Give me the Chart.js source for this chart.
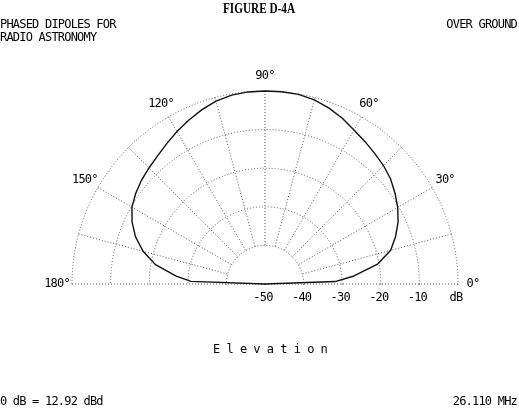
<!DOCTYPE html>
<html><head><meta charset="utf-8">
<script src="https://cdn.jsdelivr.net/npm/chart.js@4/dist/chart.umd.min.js"></script>
<style>
html,body{margin:0;padding:0;background:#fff;width:519px;height:409px;overflow:hidden}
#wrap{position:absolute;left:0;top:0;width:519px;height:409px;overflow:hidden}
#c{position:absolute;left:0;top:0}
.t{position:absolute;font-family:"DejaVu Sans Mono",monospace;font-size:12px;line-height:13px;letter-spacing:-0.8px;color:#000;white-space:pre}
#title{position:absolute;left:258.5px;top:0px;font-family:"Liberation Serif",serif;font-weight:bold;font-size:15px;line-height:17px;transform:translateX(-50%) scaleX(0.75);white-space:pre;color:#000}
</style></head><body>
<div id="wrap"><canvas id="c" width="519" height="520"></canvas></div>
<div id="title">FIGURE D-4A</div>
<div class="t" style="left:0;top:18px">PHASED DIPOLES FOR
RADIO ASTRONOMY</div>
<div class="t" style="right:2px;top:18px;text-align:right">OVER GROUND</div>
<div class="t" style="left:213px;top:343px;letter-spacing:-0.5px">E l e v a t i o n</div>
<div class="t" style="left:0;top:395px">0 dB = 12.92 dBd</div>
<div class="t" style="right:2px;top:395px;text-align:right">26.110 MHz</div>
<script>
// Elevation angle (degrees) and relative gain (dB)
const elevAngles = [0, 2, 5, 10, 15, 20, 25, 30, 35, 40, 45, 50, 55, 60, 65, 70, 75, 80, 85, 90,
                    95, 100, 105, 110, 115, 120, 125, 130, 135, 140, 145, 150, 155, 160, 165, 170, 175, 178, 180];
const gainDb = [-50, -31.8, -27.1, -20.4, -16.3, -14.0, -11.95, -10.3, -8.9, -7.55, -6.6, -5.8, -4.9, -3.9, -2.6, -1.5, -0.6, -0.1, 0, 0,
                -0.05, -0.3, -0.95, -2.0, -3.2, -4.4, -5.6, -6.7, -7.5, -8.2, -9.1, -10.2, -12.0, -14.3, -17.3, -21.2, -26.9, -30.8, -50];
// Radial (dB) ticks
const ringValues = [-50, -40, -30, -20, -10, 0];
const ringLabels = ['-50', '-40', '-30', '-20', '-10', 'dB'];
// Angle ticks
const angleTickValues = [0, 30, 60, 90, 120, 150, 180];
const angleTickLabels = ['0°', '30°', '60°', '90°', '120°', '150°', '180°'];
const spokeStep = 15;

const N = 360;
const idxOf = e => (360 - e) % 360;
const elevOf = i => (360 - i) % 360;
const labels = Array.from({length: N}, (_, i) => String(elevOf(i)));
const series = new Array(N).fill(null);
elevAngles.forEach((e, k) => { series[idxOf(e)] = gainDb[k]; });

const polarDecor = {
  id: 'polarDecor',
  beforeDatasetsDraw(chart) {
    const s = chart.scales.r, ctx = chart.ctx;
    const r40 = s.getDistanceFromCenterForValue(-40);
    ctx.save();
    ctx.beginPath();
    ctx.rect(0, 0, chart.width, s.yCenter - 0.6);
    ctx.clip();
    ctx.fillStyle = '#fff';
    ctx.beginPath();
    ctx.arc(s.xCenter, s.yCenter, r40 - 1.2, 0, 2 * Math.PI);
    ctx.fill();
    ctx.restore();
  },
  afterDatasetsDraw(chart) {
    const s = chart.scales.r, ctx = chart.ctx;
    ctx.save();
    ctx.fillStyle = '#fff';
    ctx.fillRect(0, s.yCenter + 1, chart.width, chart.height);
    ctx.fillStyle = '#000';
    ctx.font = '12px "DejaVu Sans Mono"';
    try { ctx.letterSpacing = '-0.8px'; } catch (e) {}
    ctx.textAlign = 'center';
    ctx.textBaseline = 'middle';
    ringValues.forEach((v, k) => {
      const x = s.xCenter + s.getDistanceFromCenterForValue(v) - 2;
      ctx.fillText(ringLabels[k], x, s.yCenter + 14);
    });
    angleTickValues.forEach((e, k) => {
      const p = s.getPointPosition(idxOf(e), s.drawingArea + 15);
      ctx.fillText(angleTickLabels[k], p.x, p.y);
    });
    ctx.restore();
  }
};

new Chart(document.getElementById('c'), {
  type: 'radar',
  data: {
    labels: labels,
    datasets: [{
      data: series,
      spanGaps: true,
      borderColor: '#111',
      borderWidth: 1.4,
      pointRadius: 0,
      pointHoverRadius: 0,
      fill: false,
      tension: 0
    }]
  },
  options: {
    responsive: false,
    animation: false,
    events: [],
    layout: {padding: {left: 72, right: 61, top: 91, bottom: 43}},
    plugins: {legend: {display: false}, tooltip: {enabled: false}},
    scales: {
      r: {
        min: -50,
        max: 0,
        startAngle: 90,
        ticks: {display: false, stepSize: 10},
        pointLabels: {display: false},
        grid: {circular: true, color: '#5a5a5a', lineWidth: 1, borderDash: [1, 2]},
        border: {dash: [1, 2]},
        angleLines: {
          color: '#5a5a5a',
          borderDash: [1, 2],
          lineWidth: ctx => {
            const e = elevOf(ctx.index);
            return (e <= 180 && e % spokeStep === 0) ? 1 : 0;
          }
        }
      }
    }
  },
  plugins: [polarDecor]
});
</script>
</body></html>
